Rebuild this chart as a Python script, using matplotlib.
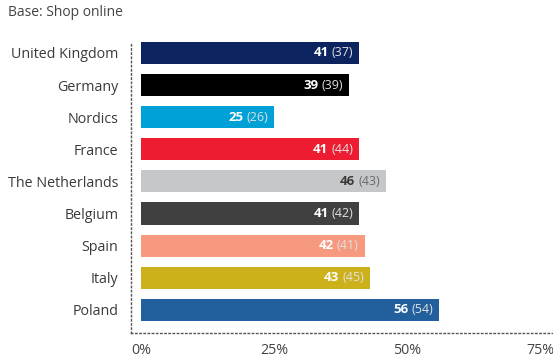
import matplotlib.pyplot as plt

plt.rcParams['font.family'] = ['Open Sans', 'DejaVu Sans']

countries = ["United Kingdom", "Germany", "Nordics", "France", "The Netherlands",
             "Belgium", "Spain", "Italy", "Poland"]
current = [41, 39, 25, 41, 46, 41, 42, 43, 56]
previous = [37, 39, 26, 44, 43, 42, 41, 45, 54]
colors = ["#0b2460", "#000000", "#00a1d7", "#ee1c30", "#c6c7c9",
          "#404041", "#f7997f", "#ccb11a", "#21609d"]
tick_vals = [0, 25, 50, 75]

fig = plt.figure(figsize=(5.53, 3.63), dpi=100)
ax = fig.add_axes([131 / 553, 30 / 363, 422 / 553, 291 / 363])

ypos = list(range(len(countries)))
ax.barh(ypos, current, height=0.69, color=colors, left=0)

ax.set_xlim(-1.9, 77.4)
ax.set_ylim(8.72, -0.34)
ax.set_yticks(ypos)
ax.set_yticklabels(countries, fontsize=10.3, color="#3a3a3a")
ax.set_xticks(tick_vals)
ax.set_xticklabels([f"{v}%" for v in tick_vals], fontsize=10.3, color="#444444")
ax.tick_params(length=0)
ax.tick_params(axis="y", pad=9)
ax.tick_params(axis="x", pad=7)

for s in ["top", "right"]:
    ax.spines[s].set_visible(False)
for s in ["left", "bottom"]:
    ax.spines[s].set_linestyle((0, (1, 2)))
    ax.spines[s].set_color("#555555")
    ax.spines[s].set_linewidth(1.0)

fig.canvas.draw()
renderer = fig.canvas.get_renderer()
inv = ax.transData.inverted()

for i, (cur, prev, col) in enumerate(zip(current, previous, colors)):
    light_bar = col == "#c6c7c9"
    bold_col = "#3a3a3a" if light_bar else "white"
    par_col = "#6a6a6a" if light_bar else "#e0e0e0"
    # end of bar minus a small gap, in data units
    x_end = inv.transform(ax.transData.transform((cur, 0)) - (6, 0))[0]
    par = ax.text(x_end, i, f"({prev})", ha="right", va="center",
                  fontsize=9, color=par_col)
    bb = par.get_window_extent(renderer)
    x_bold = inv.transform((bb.x0 - 3, 0))[0]
    ax.text(x_bold, i, f"{cur}", ha="right", va="center",
            fontsize=9.5, fontweight="bold", color=bold_col)

fig.text(8 / 553, 1 - 12 / 363, "Base: Shop online", fontsize=10,
         color="#444444", va="center", ha="left")

fig.savefig("out.png", dpi=100)
